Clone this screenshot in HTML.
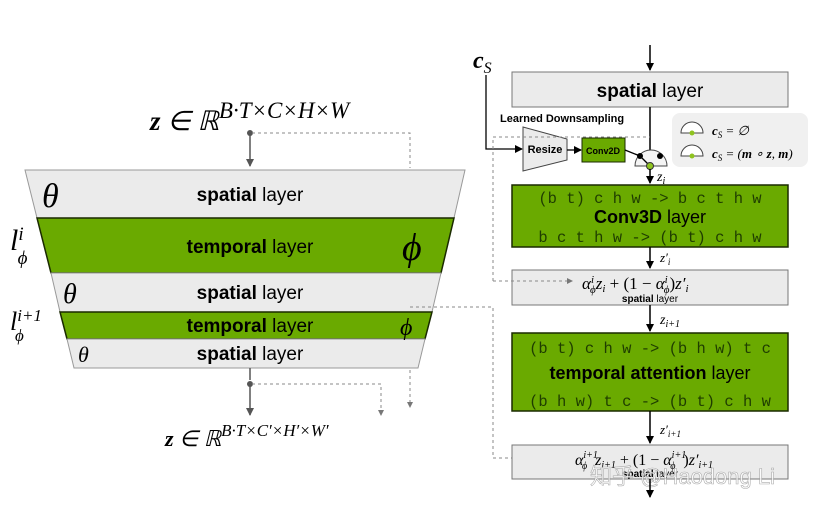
<!DOCTYPE html>
<html><head><meta charset="utf-8"><style>
body{margin:0;background:#fff}
svg{display:block}
.s{font-family:"Liberation Sans",sans-serif}
.m{font-family:"Liberation Serif",serif;font-style:italic}
.c{font-family:"Liberation Mono",monospace;fill:#1f3d00}
</style></head><body>
<svg width="821" height="511" viewBox="0 0 821 511" xmlns="http://www.w3.org/2000/svg">
<defs>
<marker id="a" markerWidth="8" markerHeight="8" refX="7" refY="4" orient="auto" markerUnits="userSpaceOnUse"><path d="M0,0 L8,4 L0,8z" fill="#555"/></marker>
<marker id="b" markerWidth="8" markerHeight="8" refX="7" refY="4" orient="auto" markerUnits="userSpaceOnUse"><path d="M0,0 L8,4 L0,8z" fill="#000"/></marker>
<marker id="d" markerWidth="6" markerHeight="6" refX="5" refY="3" orient="auto" markerUnits="userSpaceOnUse"><path d="M0,0 L6,3 L0,6z" fill="#777"/></marker>
</defs>
<!-- left -->
<text x="150" y="130" class="m" font-size="27"><tspan font-weight="bold">z</tspan> ∈ ℝ<tspan dy="-12" font-size="23">B·T×C×H×W</tspan></text>
<circle cx="250" cy="133" r="3" fill="#555"/>
<line x1="250" y1="133" x2="250" y2="166" stroke="#555" stroke-width="1.5" marker-end="url(#a)"/>
<polyline points="252,133 410,133 410,168" fill="none" stroke="#888" stroke-dasharray="3,3"/>
<polygon points="25,170 465,170 454,218 37,218" fill="#ebebeb" stroke="#999"/>
<polygon points="37,218 454,218 441,273 51,273" fill="#6aaa00" stroke="#1a2a00" stroke-width="1.5"/>
<polygon points="51,273 441,273 432,312 60,312" fill="#ebebeb" stroke="#999"/>
<polygon points="60,312 432,312 425,339 67,339" fill="#6aaa00" stroke="#1a2a00" stroke-width="1.5"/>
<polygon points="67,339 425,339 418,368 74,368" fill="#ebebeb" stroke="#999"/>
<text x="250" y="201" class="s" font-size="19" text-anchor="middle"><tspan font-weight="bold">spatial</tspan> layer</text>
<text x="250" y="253" class="s" font-size="19" text-anchor="middle"><tspan font-weight="bold">temporal</tspan> layer</text>
<text x="250" y="299" class="s" font-size="19" text-anchor="middle"><tspan font-weight="bold">spatial</tspan> layer</text>
<text x="250" y="332" class="s" font-size="19" text-anchor="middle"><tspan font-weight="bold">temporal</tspan> layer</text>
<text x="250" y="360" class="s" font-size="19" text-anchor="middle"><tspan font-weight="bold">spatial</tspan> layer</text>
<text x="42" y="207" class="m" font-size="34">θ</text>
<text x="63" y="303" class="m" font-size="28">θ</text>
<text x="78" y="362" class="m" font-size="22">θ</text>
<text x="402" y="260" class="m" font-size="38">ϕ</text>
<text x="400" y="335" class="m" font-size="24">ϕ</text>
<text x="10" y="250" class="m" font-size="30">l<tspan dy="-10" font-size="19">i</tspan><tspan dx="-6" dy="24" font-size="19">ϕ</tspan></text>
<text x="10" y="330" class="m" font-size="26">l<tspan dy="-9" font-size="17">i+1</tspan><tspan dx="-27" dy="20" font-size="17">ϕ</tspan></text>
<line x1="250" y1="368" x2="250" y2="380" stroke="#555" stroke-width="1.5"/>
<circle cx="250" cy="384" r="3" fill="#555"/>
<line x1="250" y1="384" x2="250" y2="415" stroke="#555" stroke-width="1.5" marker-end="url(#a)"/>
<polyline points="252,384 381,384 381,415" fill="none" stroke="#888" stroke-dasharray="3,3" marker-end="url(#d)"/>
<line x1="410" y1="370" x2="410" y2="407" stroke="#888" stroke-dasharray="3,3" marker-end="url(#d)"/>
<text x="165" y="446" class="m" font-size="22"><tspan font-weight="bold">z</tspan> ∈ ℝ<tspan dy="-10" font-size="17">B·T×C′×H′×W′</tspan></text>
<!-- right -->
<text x="473" y="68" class="m" font-size="24" font-weight="bold">c<tspan font-size="16" dy="5" font-weight="normal">S</tspan></text>
<line x1="650" y1="45" x2="650" y2="70" stroke="#000" stroke-width="1.5" marker-end="url(#b)"/>
<rect x="512" y="72" width="276" height="35" fill="#ebebeb" stroke="#777"/>
<text x="650" y="97" class="s" font-size="19" text-anchor="middle"><tspan font-weight="bold">spatial</tspan> layer</text>
<line x1="650" y1="107" x2="650" y2="150" stroke="#000" stroke-width="1.5"/>
<text x="500" y="122" class="s" font-size="11" font-weight="bold">Learned Downsampling</text>
<polyline points="486,75 486,149 522,149" fill="none" stroke="#000" stroke-width="1.3" marker-end="url(#b)"/>
<polygon points="523,127 567,139 567,160 523,171" fill="#ebebeb" stroke="#444"/>
<text x="545" y="153" class="s" font-size="11" font-weight="bold" text-anchor="middle">Resize</text>
<line x1="567" y1="150" x2="581" y2="150" stroke="#000" stroke-width="1.3" marker-end="url(#b)"/>
<rect x="582" y="138" width="43" height="24" fill="#6aaa00" stroke="#1a2a00"/>
<text x="603" y="154" class="s" font-size="9" font-weight="bold" text-anchor="middle">Conv2D</text>
<polyline points="493,281 493,137 650,137" fill="none" stroke="#888" stroke-dasharray="3,3"/>
<path d="M635,166 A16,16 0 0 1 667,166 Z" fill="#f4f4f4" stroke="#444"/>
<line x1="625" y1="150" x2="640" y2="156" stroke="#000" stroke-width="1.3"/>
<line x1="640" y1="156" x2="650" y2="166" stroke="#000" stroke-width="1.3"/>
<circle cx="640" cy="156" r="3" fill="#000"/><circle cx="660" cy="156" r="3" fill="#000"/>
<circle cx="650" cy="166" r="3.5" fill="#8fc31f" stroke="#333"/>
<line x1="650" y1="169" x2="650" y2="183" stroke="#000" stroke-width="1.5" marker-end="url(#b)"/>
<text x="657" y="181" class="m" font-size="14">z<tspan font-size="10" dy="3">i</tspan></text>
<rect x="672" y="113" width="136" height="54" rx="8" fill="#f0f0f0"/>
<text x="712" y="135" class="m" font-size="13"><tspan font-weight="bold">c</tspan><tspan font-size="9" dy="3">S</tspan><tspan dy="-3"> = ∅</tspan></text>
<text x="712" y="158" class="m" font-size="13"><tspan font-weight="bold">c</tspan><tspan font-size="9" dy="3">S</tspan><tspan dy="-3"> = (</tspan><tspan font-weight="bold">m</tspan> ∘ <tspan font-weight="bold">z</tspan>, <tspan font-weight="bold">m</tspan>)</text>
<path d="M681,133 A9,9 0 0 1 703,133 Z" fill="#fff" stroke="#444"/><circle cx="692" cy="133" r="2.5" fill="#8fc31f"/>
<path d="M681,156 A9,9 0 0 1 703,156 Z" fill="#fff" stroke="#444"/><circle cx="692" cy="156" r="2.5" fill="#8fc31f"/>
<rect x="512" y="185" width="276" height="62" fill="#6aaa00" stroke="#1a2a00" stroke-width="1.5"/>
<text x="650" y="203" class="c" font-size="15.5" text-anchor="middle">(b t) c h w -&gt; b c t h w</text>
<text x="650" y="223" class="s" font-size="18" text-anchor="middle"><tspan font-weight="bold">Conv3D</tspan> layer</text>
<text x="650" y="242" class="c" font-size="15.5" text-anchor="middle">b c t h w -&gt; (b t) c h w</text>
<line x1="650" y1="247" x2="650" y2="268" stroke="#000" stroke-width="1.5" marker-end="url(#b)"/>
<text x="660" y="262" class="m" font-size="13">z′<tspan font-size="9" dy="3">i</tspan></text>
<rect x="512" y="270" width="276" height="35" fill="#ebebeb" stroke="#777"/>
<line x1="493" y1="281" x2="572" y2="281" stroke="#888" stroke-dasharray="3,3" marker-end="url(#d)"/>
<text x="582" y="289" class="m" font-size="17">α<tspan font-size="11" dy="-6">i</tspan><tspan font-size="11" dx="-4" dy="10">ϕ</tspan><tspan dy="-4">z</tspan><tspan font-size="11" dy="3">i</tspan><tspan dy="-3" font-style="normal"> + (1 − </tspan>α<tspan font-size="11" dy="-6">i</tspan><tspan font-size="11" dx="-4" dy="10">ϕ</tspan><tspan dy="-4" font-style="normal">)</tspan>z′<tspan font-size="11" dy="3">i</tspan></text>
<text x="650" y="302" class="s" font-size="10" text-anchor="middle"><tspan font-weight="bold">spatial</tspan> layer</text>
<line x1="650" y1="305" x2="650" y2="331" stroke="#000" stroke-width="1.5" marker-end="url(#b)"/>
<text x="660" y="324" class="m" font-size="14">z<tspan font-size="10" dy="3">i+1</tspan></text>
<polyline points="410,307 493,307 493,458 572,458" fill="none" stroke="#888" stroke-dasharray="3,3" marker-end="url(#d)"/>
<rect x="512" y="333" width="276" height="78" fill="#6aaa00" stroke="#1a2a00" stroke-width="1.5"/>
<text x="650" y="353" class="c" font-size="15.5" text-anchor="middle">(b t) c h w -&gt; (b h w) t c</text>
<text x="650" y="379" class="s" font-size="18" text-anchor="middle"><tspan font-weight="bold">temporal attention</tspan> layer</text>
<text x="650" y="406" class="c" font-size="15.5" text-anchor="middle">(b h w) t c -&gt; (b t) c h w</text>
<line x1="650" y1="411" x2="650" y2="443" stroke="#000" stroke-width="1.5" marker-end="url(#b)"/>
<text x="660" y="434" class="m" font-size="13">z′<tspan font-size="9" dy="3">i+1</tspan></text>
<rect x="512" y="445" width="276" height="34" fill="#ebebeb" stroke="#777"/>
<text x="575" y="465" class="m" font-size="16">α<tspan font-size="10" dy="-7">i+1</tspan><tspan font-size="10" dx="-16" dy="11">ϕ</tspan><tspan dx="8" dy="-4">z</tspan><tspan font-size="10" dy="3">i+1</tspan><tspan dy="-3" font-style="normal"> + (1 − </tspan>α<tspan font-size="10" dy="-7">i+1</tspan><tspan font-size="10" dx="-16" dy="11">ϕ</tspan><tspan dx="8" dy="-4" font-style="normal">)</tspan>z′<tspan font-size="10" dy="3">i+1</tspan></text>
<text x="650" y="477" class="s" font-size="10" text-anchor="middle"><tspan font-weight="bold">spatial</tspan> layer</text>
<text x="590" y="484" font-family="Liberation Sans,Noto Sans CJK SC,sans-serif" font-size="22" fill="#fff" stroke="#999" stroke-width="0.6" opacity="0.8">知乎 @Haodong Li</text>
<line x1="650" y1="479" x2="650" y2="497" stroke="#000" stroke-width="1.5" marker-end="url(#b)"/>
</svg>
</body></html>
